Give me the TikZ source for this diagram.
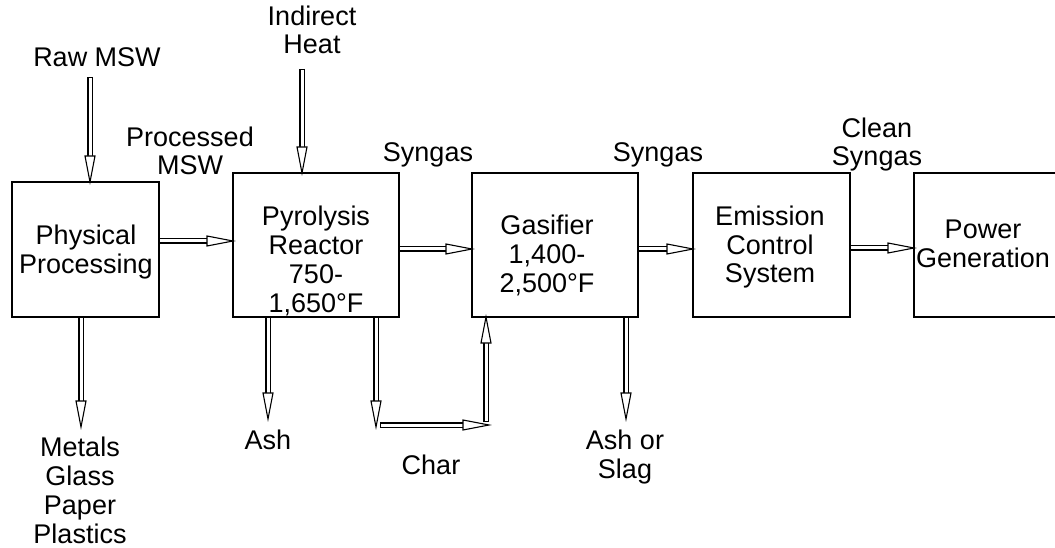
\documentclass[tikz,border=0pt]{standalone}
\usepackage{fontspec}
\setmainfont{Liberation Sans}
\usetikzlibrary{calc}
\tikzset{
  box/.style={draw=black, line width=1.3pt, inner sep=0pt, outer sep=0pt, anchor=north west},
  lbl/.style={font=\fontsize{27}{28.8}\selectfont, align=center, inner sep=0pt, anchor=base},
  shaftout/.style={line width=5.4pt, black},
  shaftin/.style={line width=3pt, white},
  headtip/.style={draw=black, fill=white, line width=1.1pt, line join=miter},
}
\newcommand\flowarrow[2]{%
  \coordinate (fa-b) at ($#2!26pt!#1$);
  \draw[shaftout] #1 -- (fa-b);
  \draw[shaftin] ($#1!1.2pt!#2$) -- ($(fa-b)!-1pt!#1$);
  \draw[headtip] #2 -- ($(fa-b)!5pt!90:#2$) -- ($(fa-b)!5pt!-90:#2$) -- cycle;
}
\begin{document}
\begin{tikzpicture}[x=1pt,y=-1pt]
\useasboundingbox (0,0) rectangle (1055,548);
\clip (0,0) rectangle (1055,548);
% boxes
\node[box, minimum width=147pt, minimum height=135pt] (pp) at (12,182) {};
\node[box, minimum width=166pt, minimum height=144pt] (pr) at (233,173) {};
\node[box, minimum width=166pt, minimum height=144pt] (gs) at (472,173) {};
\node[box, minimum width=157pt, minimum height=144pt] (ec) at (693,173) {};
\node[box, minimum width=170pt, minimum height=144pt] (pg) at (914,173) {};
% box texts (anchor = baseline of last line)
\node[lbl] (ppt) at (86,273) {Physical\\Processing};
\node[lbl] (prt) at (316,312) {Pyrolysis\\Reactor\\750-\\1,650°F};
\node[lbl] (gst) at (547,292) {Gasifier\\1,400-\\2,500°F};
\node[lbl] (ect) at (770,283) {Emission\\Control\\System};
\node[lbl] (pgt) at (983,267) {Power\\Generation};
% free labels
\node[lbl] (raw) at (97,67) {Raw MSW};
\node[lbl] (heat) at (312,54) {Indirect\\Heat};
\node[lbl] (pmsw) at (190,175) {Processed\\MSW};
\node[lbl] (sg1) at (428,162) {Syngas};
\node[lbl] (sg2) at (658,162) {Syngas};
\node[lbl] (csg) at (877,166) {Clean\\Syngas};
\node[lbl] (met) at (80,543) {Metals\\Glass\\Paper\\Plastics};
\node[lbl] (ash) at (268,449) {Ash};
\node[lbl] (char) at (431,474) {Char};
\node[lbl] (slag) at (625,478) {Ash or\\Slag};
% connector coordinates
\coordinate (rawS) at (90,77);
\coordinate (metE) at (81,427);
\coordinate (ppy) at (0,241);
\coordinate (heatS) at (302,69);
\coordinate (ashE) at (268,419);
\coordinate (chD) at (376,427);
\coordinate (chH1) at (380,425);
\coordinate (chH2) at (489,425);
\coordinate (chU) at (486,422);
\coordinate (gy) at (0,249);
\coordinate (slE) at (626,419);
\coordinate (ey) at (0,248);
% connectors
\flowarrow{(rawS)}{(rawS |- pp.north)}
\flowarrow{(metE |- pp.south)}{(metE)}
\flowarrow{(pp.east |- ppy)}{(pr.west |- ppy)}
\flowarrow{(heatS)}{(heatS |- pr.north)}
\flowarrow{(ashE |- pr.south)}{(ashE)}
\flowarrow{(chD |- pr.south)}{(chD)}
\flowarrow{(chH1)}{(chH2)}
\flowarrow{(chU)}{(chU |- gs.south)}
\flowarrow{(pr.east |- gy)}{(gs.west |- gy)}
\flowarrow{(slE |- gs.south)}{(slE)}
\flowarrow{(gs.east |- gy)}{(ec.west |- gy)}
\flowarrow{(ec.east |- ey)}{(pg.west |- ey)}
\end{tikzpicture}
\end{document}
